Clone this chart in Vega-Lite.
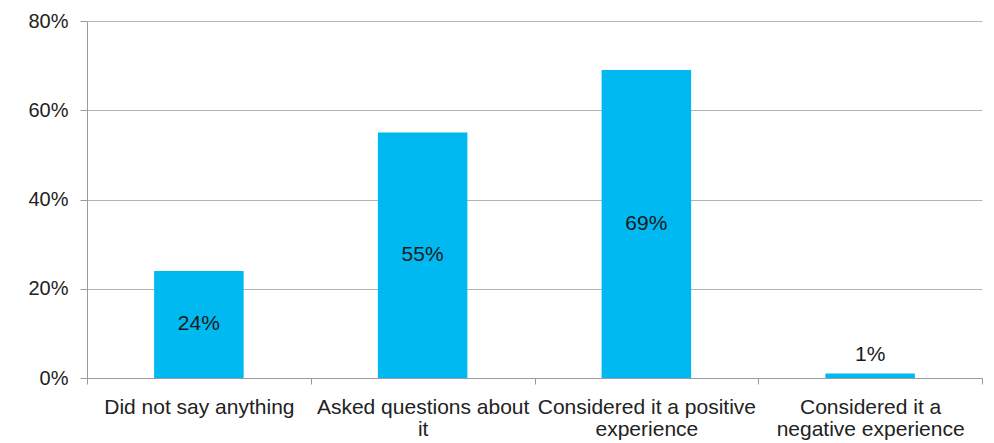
{
  "$schema": "https://vega.github.io/schema/vega-lite/v6.json",
  "width": 895,
  "height": 357,
  "autosize": "none",
  "padding": {"left": 87, "top": 21, "right": 12, "bottom": 65},
  "background": "white",
  "config": {
    "view": {"stroke": null},
    "font": "Liberation Sans",
    "axis": {
      "labelFont": "Liberation Sans",
      "labelFontSize": 21,
      "labelColor": "#222222",
      "domainColor": "#9a9a9a",
      "tickColor": "#9a9a9a",
      "gridColor": "#b4b4b4",
      "titleFontSize": 18
    }
  },
  "data": {
    "values": [
      {"answer": "Did not say anything", "value": 0.24},
      {"answer": "Asked questions about|it", "value": 0.55},
      {"answer": "Considered it a positive|experience", "value": 0.69},
      {"answer": "Considered it a|negative experience", "value": 0.01}
    ]
  },
  "encoding": {
    "x": {
      "field": "answer",
      "type": "nominal",
      "sort": null,
      "scale": {"paddingInner": 0, "paddingOuter": 0},
      "axis": {
        "title": null,
        "labelAngle": 0,
        "labelExpr": "split(datum.label, '|')",
        "labelLineHeight": 22,
        "labelPadding": 12,
        "tickBand": "extent",
        "tickSize": 6,
        "grid": false,
        "labelLimit": 300
      }
    }
  },
  "layer": [
    {
      "mark": {"type": "bar", "color": "#00b9f1", "width": {"band": 0.4}},
      "encoding": {
        "y": {
          "field": "value",
          "type": "quantitative",
          "scale": {"domain": [0, 0.8], "nice": false},
          "axis": {
            "title": null,
            "values": [0, 0.2, 0.4, 0.6, 0.8],
            "format": ".0%",
            "labelFontSize": 20,
            "tickSize": 7,
            "labelPadding": 12,
            "grid": true
          }
        }
      }
    },
    {
      "transform": [
        {"filter": "datum.value >= 0.05"},
        {"calculate": "datum.value / 2", "as": "mid"}
      ],
      "mark": {"type": "text", "fontSize": 21, "color": "#1a1a1a", "baseline": "middle"},
      "encoding": {
        "y": {"field": "mid", "type": "quantitative"},
        "text": {"field": "value", "type": "quantitative", "format": ".0%"}
      }
    },
    {
      "transform": [{"filter": "datum.value < 0.05"}],
      "mark": {"type": "text", "fontSize": 21, "color": "#1a1a1a", "baseline": "bottom", "dy": -9},
      "encoding": {
        "y": {"field": "value", "type": "quantitative"},
        "text": {"field": "value", "type": "quantitative", "format": ".0%"}
      }
    }
  ]
}
